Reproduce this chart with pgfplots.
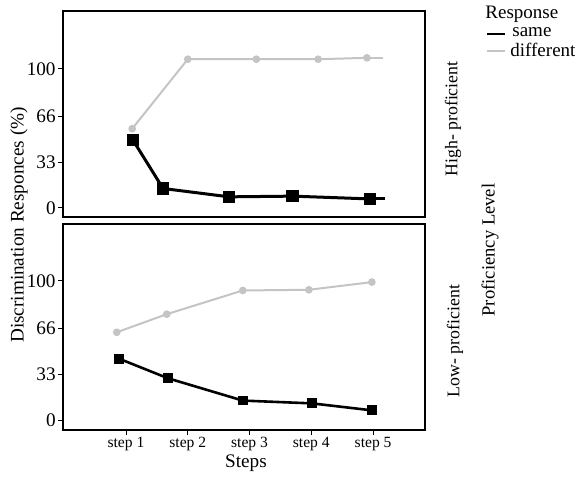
\documentclass[border=0pt]{standalone}
\usepackage{pgfplots}
\pgfplotsset{compat=1.18}
\usepackage{fontspec}
\setmainfont{Liberation Serif}
\definecolor{diffgray}{HTML}{C4C4C4}
\begin{document}
\begin{tikzpicture}
\pgfplotsset{
  panel/.style={
    scale only axis, width=181pt, height=103pt, anchor=south west,
    xmin=-0.02, xmax=5.84,
    axis line style={line width=1.2pt},
    tick align=outside, major tick length=2.5pt,
    tick style={black, line width=0.5pt},
    xtick pos=bottom, ytick pos=left,
    ytick={0,33,66,100},
    yticklabel style={font=\fontsize{9.6}{10}\selectfont, anchor=east, inner sep=1pt},
    xticklabel style={inner sep=1pt},
    /pgf/number format/assume math mode=true,
    clip=false,
  },
  sameline/.style={black, line width=1.5pt, mark=square*, mark options={solid,fill=black}},
  diffline/.style={diffgray, line width=1pt, mark=*, mark size=1.4pt, mark options={fill=diffgray, draw=diffgray}},
}
\path[use as bounding box] (0,0) rectangle (287.5pt,238.5pt);
% Top panel: High-proficient
\begin{axis}[panel, at={(31.5pt,130pt)}, ymin=-6.5, ymax=141.7, xtick=\empty]
\addplot[diffline] coordinates {(1.10,57) (2.00,107) (3.11,107) (4.11,107) (4.90,108)};
\addplot[diffgray, line width=1pt] coordinates {(4.90,108) (5.16,108)};
\addplot[sameline, mark size=2.4pt] coordinates {(1.11,49) (1.60,14) (2.67,8) (3.70,8.5) (4.95,6.5)};
\addplot[black, line width=1.5pt] coordinates {(4.95,6.5) (5.19,6.5)};
\end{axis}
% Bottom panel: Low-proficient
\begin{axis}[panel, at={(31.5pt,23.5pt)}, ymin=-7.1, ymax=140.7,
  xtick={1,2,3,4,5}, xticklabels={step 1,step 2,step 3,step 4,step 5},
  xticklabel style={font=\fontsize{7.8}{9}\selectfont}]
\addplot[diffline] coordinates {(0.85,63) (1.66,76) (2.89,93) (3.96,93.5) (4.98,99)};
\addplot[sameline, line width=1.3pt, mark size=1.8pt] coordinates {(0.89,44) (1.68,30) (2.89,14) (4.01,12) (4.98,7)};
\end{axis}
% Labels
\node[rotate=90, font=\fontsize{9.6}{11}\selectfont] at (9.5pt,126pt) {Discrimination Responces (\%)};
\node[font=\fontsize{9.6}{11}\selectfont] at (123pt,7pt) {Steps};
\node[rotate=90, font=\fontsize{8.9}{10}\selectfont] at (226.5pt,179pt) {High- proficient};
\node[rotate=90, font=\fontsize{8.9}{10}\selectfont] at (227.5pt,68pt) {Low- proficient};
\node[rotate=90, font=\fontsize{9.3}{10}\selectfont] at (245pt,113.5pt) {Proficiency Level};
% Legend
\node[anchor=west, font=\fontsize{9.5}{10}\selectfont, inner sep=0pt] at (242.5pt,231.5pt) {Response};
\draw[black, line width=1.3pt] (243.5pt,221.5pt) -- (252.5pt,221.5pt);
\node[anchor=west, font=\fontsize{9.5}{10}\selectfont, inner sep=0pt] at (256pt,222.5pt) {same};
\draw[diffgray, line width=1pt] (243.5pt,213pt) -- (252.5pt,213pt);
\node[anchor=west, font=\fontsize{9.5}{10}\selectfont, inner sep=0pt] at (255pt,213.5pt) {different};
\end{tikzpicture}
\end{document}
